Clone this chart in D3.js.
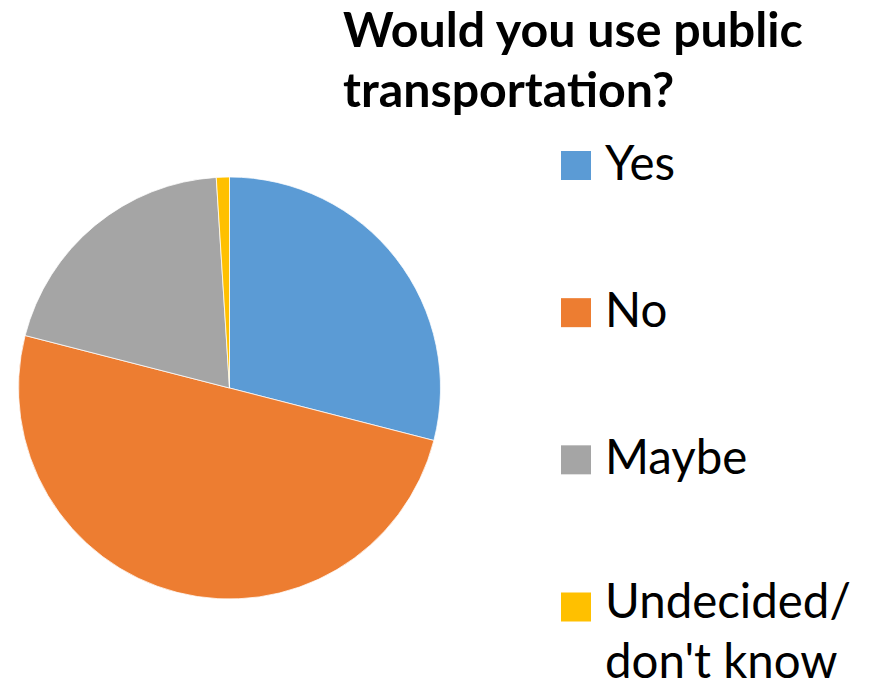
<!DOCTYPE html>
<html><head><meta charset="utf-8">
<script src="https://cdn.jsdelivr.net/npm/d3@7"></script>
<style>html,body{margin:0;padding:0;background:#fff;}svg{display:block;}</style>
</head><body>
<script>
const categories = ["Yes", "No", "Maybe", "Undecided/ don't know"];
const values = [29, 50, 20, 1];
const colors = ["#5B9BD5", "#ED7D31", "#A5A5A5", "#FFC000"];
const titleLines = ["Would you use public", "transportation?"];
const legendLines = [["Yes"], ["No"], ["Maybe"], ["Undecided/", "don't know"]];

const W = 874, H = 688;
const svg = d3.select("body").append("svg").attr("width", W).attr("height", H);
const font = "Lato, 'Open Sans', sans-serif";

// pie
const cx = 229.5, cy = 388, r = 211;
const pie = d3.pie().sort(null).value(d => d)(values);
const arc = d3.arc().innerRadius(0).outerRadius(r);
const g = svg.append("g").attr("transform", `translate(${cx},${cy})`);
g.selectAll("path").data(pie).join("path")
  .attr("d", arc).attr("fill", (d, i) => colors[i])
  .attr("stroke", "#fff").attr("stroke-width", 0.75);

// title
function fitText(sel, target) {
  const len = sel.node().getComputedTextLength();
  const fs = parseFloat(sel.attr("font-size"));
  sel.attr("font-size", fs * target / len);
}
const t1 = svg.append("text").attr("x", 343).attr("y", 47).attr("font-family", font)
  .attr("font-weight", "bold").attr("font-size", 40).text(titleLines[0]);
fitText(t1, 460);
const t2 = svg.append("text").attr("x", 343).attr("y", 107).attr("font-family", font)
  .attr("font-weight", "bold").attr("font-size", t1.attr("font-size")).text(titleLines[1]);

// legend
const legY = d3.scalePoint().domain(categories).range([165.5, 607]);
const lg = svg.append("g");
const fsLeg = 40;
categories.forEach((c, i) => {
  const y = legY(c);
  const multi = legendLines[i].length > 1;
  lg.append("rect").attr("x", 561).attr("y", y - 14.5).attr("width", 30).attr("height", 29)
    .attr("fill", colors[i]);
  legendLines[i].forEach((line, j) => {
    lg.append("text").attr("x", 605).attr("y", y + (multi ? 11 : 14) + j * 60)
      .attr("font-family", font).attr("font-size", fsLeg).attr("fill", "#000").text(line);
  });
});
// fit legend font to "Yes" width ~70px
const yesNode = lg.selectAll("text").filter(function(){return this.textContent==="Yes";});
const yl = yesNode.node().getComputedTextLength();
lg.selectAll("text").attr("font-size", fsLeg * 70 / yl);
</script>
</body></html>
